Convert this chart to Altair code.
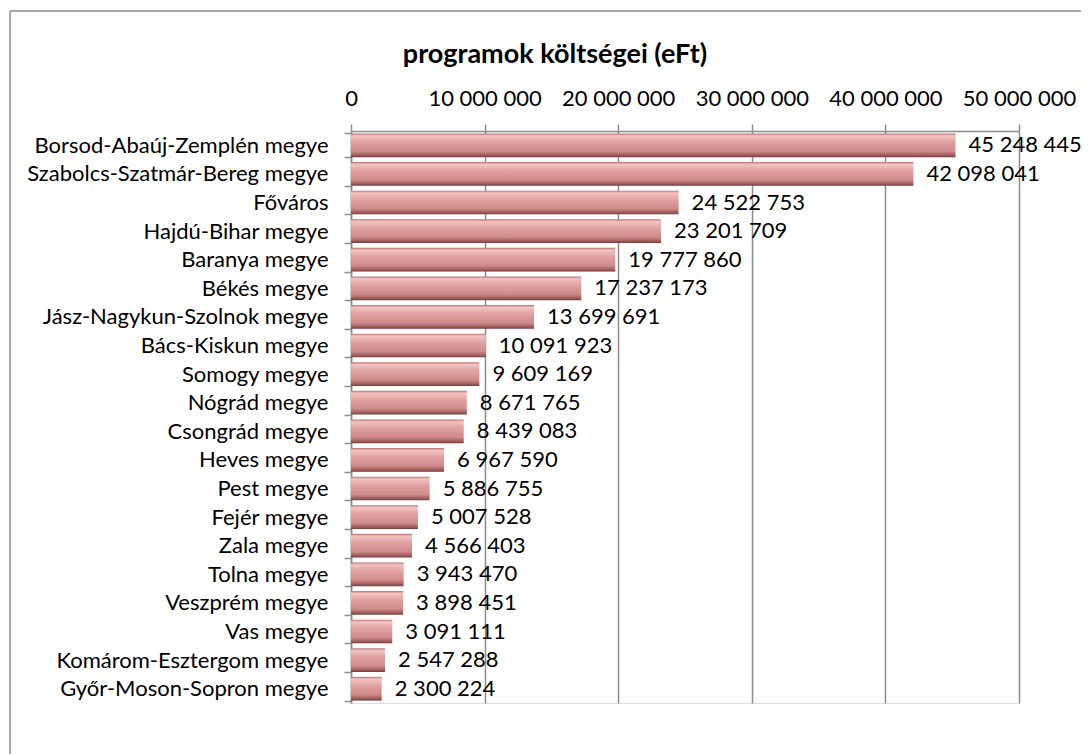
import altair as alt
import pandas as pd

regions = [
    "Borsod-Abaúj-Zemplén megye", "Szabolcs-Szatmár-Bereg megye", "Főváros",
    "Hajdú-Bihar megye", "Baranya megye", "Békés megye", "Jász-Nagykun-Szolnok megye",
    "Bács-Kiskun megye", "Somogy megye", "Nógrád megye", "Csongrád megye",
    "Heves megye", "Pest megye", "Fejér megye", "Zala megye", "Tolna megye",
    "Veszprém megye", "Vas megye", "Komárom-Esztergom megye", "Győr-Moson-Sopron megye",
]
values = [
    45248445, 42098041, 24522753, 23201709, 19777860, 17237173, 13699691,
    10091923, 9609169, 8671765, 8439083, 6967590, 5886755, 5007528, 4566403,
    3943470, 3898451, 3091111, 2547288, 2300224,
]
x_ticks = [0, 10000000, 20000000, 30000000, 40000000, 50000000]
title_text = "programok költségei (eFt)"

labels = [f"{v:,}".replace(",", " ") for v in values]
df = pd.DataFrame({"region": regions, "value": values, "label": labels})

FONT = "Lato"
FS = 22
GRAY = "#8c8c8c"

bar_fill = alt.Gradient(
    gradient="linear", x1=0, x2=0, y1=0, y2=1,
    stops=[
        alt.GradientStop(offset=0, color="#b87272"),
        alt.GradientStop(offset=0.1, color="#f4c4c4"),
        alt.GradientStop(offset=0.35, color="#e3a3a3"),
        alt.GradientStop(offset=0.75, color="#cf8a8a"),
        alt.GradientStop(offset=0.92, color="#a05c5c"),
        alt.GradientStop(offset=1, color="#6e3a3a"),
    ],
)

y_enc = alt.Y(
    "region:N", sort=regions, title=None,
    scale=alt.Scale(paddingInner=0.17, paddingOuter=0.085),
    axis=alt.Axis(
        labelFont=FONT, labelFontSize=FS, labelColor="#000", labelPadding=16,
        labelLimit=500, tickBand="extent", tickSize=7, tickColor=GRAY, tickWidth=1.5,
        domainColor=GRAY, domainWidth=1.5, grid=False,
    ),
)
x_enc = alt.X(
    "value:Q", title=None,
    scale=alt.Scale(domain=[0, 50000000], nice=False),
    axis=alt.Axis(
        orient="top", values=x_ticks, labelOverlap=False, labelFlush=False,
        labelExpr="replace(format(datum.value, ','), /,/g, ' ')",
        labelFont=FONT, labelFontSize=FS, labelColor="#000", labelPadding=14,
        tickSize=7, tickColor=GRAY, tickWidth=1.5,
        domainColor=GRAY, domainWidth=1.5,
        grid=True, gridColor=GRAY, gridWidth=1.5,
    ),
)

bars = alt.Chart(df).mark_bar(color=bar_fill).encode(x=x_enc, y=y_enc)
texts = alt.Chart(df).mark_text(
    align="left", baseline="middle", dx=13, font=FONT, fontSize=FS, color="#000"
).encode(x="value:Q", y=alt.Y("region:N", sort=regions), text="label:N")

deco = pd.DataFrame({"a": [0]})
border_left = alt.Chart(deco).mark_rule(
    color="#8c8c8c", strokeWidth=1.5, clip=False
).encode(x=alt.value(-341), y=alt.value(-120), y2=alt.value(700))
border_top = alt.Chart(deco).mark_rule(
    color="#8c8c8c", strokeWidth=1.5, clip=False
).encode(x=alt.value(-341), x2=alt.value(800), y=alt.value(-120))
title = alt.Chart(deco).mark_text(
    text=title_text, font=FONT, fontSize=27, fontWeight="bold", color="#000",
    align="center", baseline="middle", clip=False,
).encode(x=alt.value(204), y=alt.value(-76))

chart = alt.layer(border_left, border_top, title, bars, texts).properties(
    width=668, height=572,
    padding={"left": 343, "top": 123, "right": 62, "bottom": 51},
    autosize=alt.AutoSizeParams(type="none"),
).configure_view(stroke=None).configure(background="white")

chart.save("out.html", embed_options={"renderer": "svg", "actions": False})
